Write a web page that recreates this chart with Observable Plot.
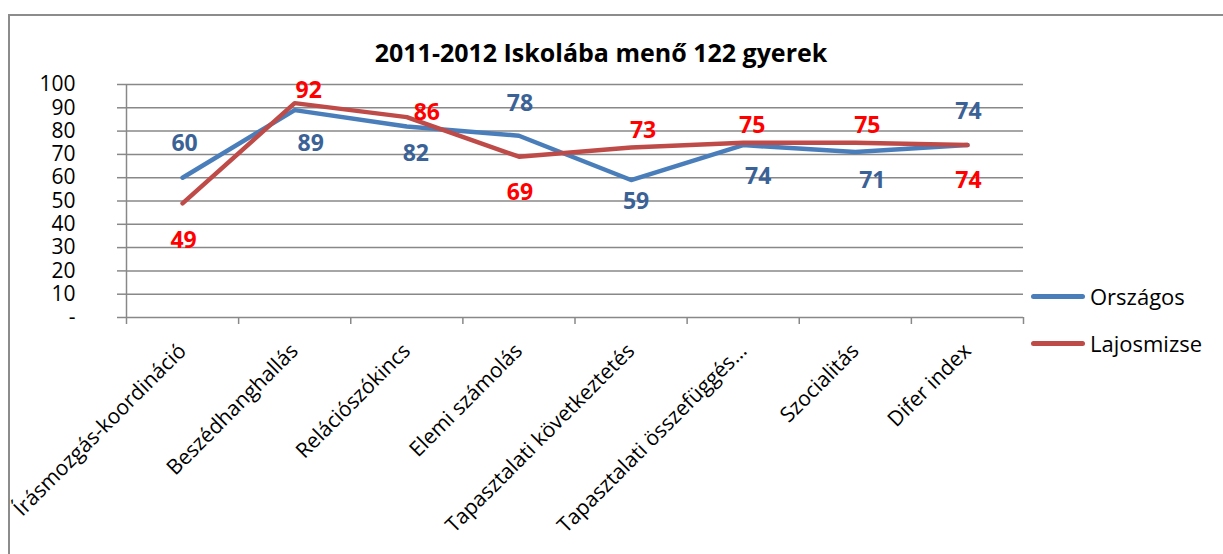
<!DOCTYPE html>
<html>
<head>
<meta charset="utf-8">
<script src="https://cdn.jsdelivr.net/npm/d3@7"></script>
<script src="https://cdn.jsdelivr.net/npm/@observablehq/plot@0.6"></script>
<style>
  html, body { margin: 0; padding: 0; background: #fff; }
  #wrap { position: relative; width: 1223px; height: 554px; overflow: hidden; background: #fff; font-family: "Open Sans", sans-serif; }
  #frame { position: absolute; left: 8px; top: 14px; width: 1400px; height: 800px; border: 2px solid #8c8c8c; box-sizing: border-box; }
  #title { position: relative; height: 38px; width: 1202px; z-index: 2; }
  #title span { position: absolute; left: 0; right: 0; top: 40px; text-align: center; font-weight: bold; font-size: 25px; line-height: 1; color: #000; white-space: nowrap; }
  #chart { position: relative; z-index: 1; }
  .leg { position: absolute; left: 1031px; height: 30px; display: flex; align-items: center; font-size: 22px; color: #000; }
  .leg .sw { width: 54px; height: 5px; border-radius: 3px; margin-right: 5px; }
</style>
</head>
<body>
<div id="wrap">
  <div id="frame"></div>
  <div id="title"><span>2011-2012 Iskolába menő 122 gyerek</span></div>
  <div id="chart"></div>
  <div id="legend"></div>
</div>
<script>
// ---- data ----
const categories = [
  "Írásmozgás-koordináció",
  "Beszédhanghallás",
  "Relációszókincs",
  "Elemi számolás",
  "Tapasztalati következtetés",
  "Tapasztalati összefüggés…",
  "Szocialitás",
  "Difer index"
];
const seriesNames = ["Országos", "Lajosmizse"];
const orszagos   = [60, 89, 82, 78, 59, 74, 71, 74];
const lajosmizse = [49, 92, 86, 69, 73, 75, 75, 74];
const yTicks = [0, 10, 20, 30, 40, 50, 60, 70, 80, 90, 100];

// ---- style: colours and data-label nudges (pixels, relative to each point) ----
const lineColors  = {"Országos": "#4A7EBB", "Lajosmizse": "#BE4B48"};
const labelColors = {"Országos": "#3B6296", "Lajosmizse": "#FF0000"};
const labelNudges = {
  "Országos":   [[2, -34], [16, 33], [9, 27], [1, -32], [5, 22], [15, 32], [17, 29], [1, -33]],
  "Lajosmizse": [[1, 37], [14, -13], [20, -4], [1, 36], [12, -17], [9, -17], [12, -17], [1, 36]]
};

const seriesValues = {"Országos": orszagos, "Lajosmizse": lajosmizse};
const rows = [];
seriesNames.forEach(s => {
  seriesValues[s].forEach((v, i) => rows.push({series: s, i, cat: categories[i], value: v}));
});

const marks = [
  Plot.gridY(yTicks, {stroke: "#888", strokeOpacity: 1, strokeWidth: 1.5}),
  Plot.axisY(yTicks, {tickSize: 9, tickPadding: 42, stroke: "#888", strokeWidth: 1.5, fill: "#000", fontSize: 21,
    tickFormat: d => d === 0 ? "-" : String(d), label: null}),
  Plot.ruleX([0], {stroke: "#888", strokeWidth: 1.5}),
  Plot.axisX(d3.range(0, categories.length + 1), {tickSize: 7, stroke: "#888", strokeWidth: 1.5, tickFormat: () => "", label: null}),
  Plot.axisX(categories.map((c, i) => i + 0.5), {tickSize: 0, tickPadding: 30, tickRotate: -45, fontSize: 21, fill: "#000",
    tickFormat: v => categories[Math.floor(v)], label: null})
];
seriesNames.forEach(s => {
  marks.push(Plot.line(rows.filter(d => d.series === s), {
    x: d => d.i + 0.5, y: "value", stroke: lineColors[s], strokeWidth: 4.5, strokeLinejoin: "round", strokeLinecap: "round"
  }));
});
rows.forEach(d => {
  const [dx, dy] = labelNudges[d.series][d.i];
  marks.push(Plot.text([d], {x: r => r.i + 0.5, y: "value", text: r => String(r.value), dx, dy,
    fill: labelColors[d.series], fontSize: 23, fontWeight: "bold", lineAnchor: "middle"}));
});

const chart = Plot.plot({
  width: 1223,
  height: 516,
  marginTop: 46,
  marginBottom: 237,
  marginLeft: 126,
  marginRight: 200,
  x: {type: "linear", domain: [0, categories.length]},
  y: {domain: [0, 100]},
  style: {fontFamily: "'Open Sans', sans-serif", background: "transparent", color: "#000"},
  marks
});
document.getElementById("chart").appendChild(chart);

const legend = document.getElementById("legend");
const legendTops = [281, 328];
seriesNames.forEach((s, k) => {
  const el = document.createElement("div");
  el.className = "leg";
  el.style.top = legendTops[k] + "px";
  el.innerHTML = `<span class="sw" style="background:${lineColors[s]}"></span><span>${s}</span>`;
  legend.appendChild(el);
});
</script>
</body>
</html>
